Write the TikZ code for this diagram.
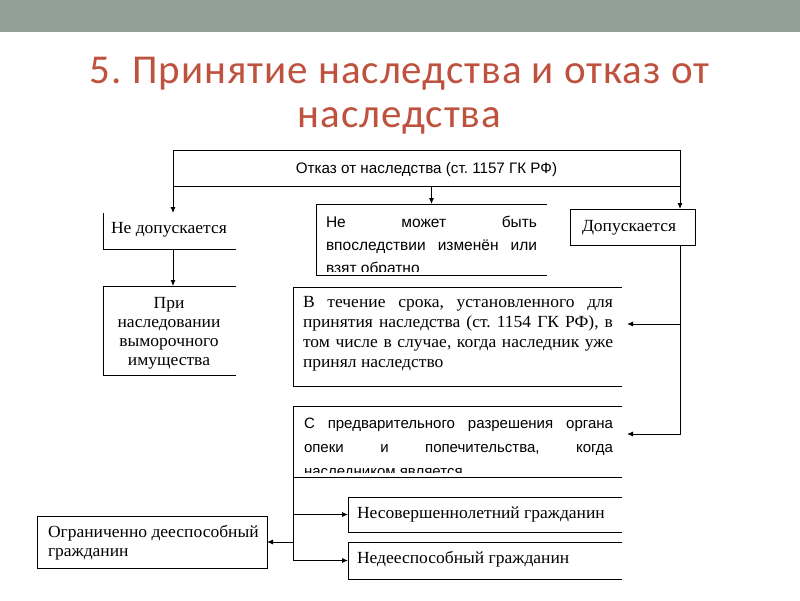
\documentclass[tikz,border=0pt]{standalone}
\usepackage{fontspec}
\setmainfont{Liberation Serif}[FakeStretch=1.03]
\newfontfamily\titlef{Carlito}[LetterSpace=2.4]
\newfontfamily\sansf{Liberation Sans}
\usetikzlibrary{arrows.meta}
\definecolor{barc}{RGB}{145,160,152}
\definecolor{ttl}{RGB}{190,82,62}
\newcommand\myjl[2]{\hbox{\makebox[#1][s]{#2}}}
\newcommand\myll[1]{\hbox{#1}}
\newcommand\mycl[1]{\hbox to 0pt{\hss #1\hss}}
\frenchspacing
\begin{document}
\begin{tikzpicture}[x=1pt,y=-1pt,
  ln/.style={line width=0.9pt},
  arr/.style={ln,-{Latex[length=6pt,width=5pt]}},
  frame/.style={inner sep=0pt, outer sep=0pt, anchor=north west},
  txt/.style={inner sep=0pt, outer sep=0pt},
  ser/.style={txt, font=\fontsize{17}{20}\selectfont},
  san/.style={txt, font=\sansf\fontsize{15.2}{18}\selectfont},
  ttlf/.style={txt, text=ttl, font=\titlef\fontsize{41}{44}\selectfont, anchor=base}
]
\useasboundingbox (0,0) rectangle (800,600);
\fill[white] (0,0) rectangle (800,600);
\fill[barc] (0,0) rectangle (800,32);
% title
\node[ttlf] (t1) at (399.5,83) {5. Принятие наследства и отказ от};
\node[ttlf] (t2) at (399.5,127) {наследства};
% frames
\node[frame, minimum width=507pt, minimum height=36pt] (otk) at (173,150) {};
\node[frame, minimum width=133pt, minimum height=36pt] (nd) at (103,213) {};
\node[frame, minimum width=133pt, minimum height=89pt] (pri) at (103,286) {};
\node[frame, minimum width=231pt, minimum height=71pt] (nm) at (316,204) {};
\node[frame, minimum width=125pt, minimum height=36pt] (dop) at (570,209) {};
\node[frame, minimum width=329pt, minimum height=99pt] (vt) at (293,287) {};
\node[frame, minimum width=329pt, minimum height=71pt] (sp) at (293,406) {};
\node[frame, minimum width=274pt, minimum height=35pt] (nes) at (348,497) {};
\node[frame, minimum width=274pt, minimum height=37pt] (ned) at (348,542) {};
\node[frame, minimum width=230pt, minimum height=52pt] (og) at (37,516) {};
% frame edges
\draw[ln] (otk.north west) rectangle (otk.south east);
\draw[ln] (nd.north west) -- (nd.south west) -- (nd.south east);
\draw[ln] (pri.north east) -- (pri.north west) -- (pri.south west) -- (pri.south east);
\draw[ln] (nm.north east) -- (nm.north west) -- (nm.south west) -- (nm.south east);
\draw[ln] (dop.north west) rectangle (dop.south east);
\draw[ln] (vt.north east) -- (vt.north west) -- (vt.south west) -- (vt.south east);
\draw[ln] (sp.north east) -- (sp.north west) -- (sp.south west) -- (sp.south east);
\draw[ln] (nes.north east) -- (nes.north west) -- (nes.south west) -- (nes.south east);
\draw[ln] (ned.north east) -- (ned.north west) -- (ned.south west) -- (ned.south east);
\draw[ln] (og.north west) rectangle (og.south east);
% texts
\node[san, anchor=base] (otkT) at (426.5,173) {Отказ от наследства (ст. 1157 ГК РФ)};
\node[ser, anchor=base west] (ndT) at (111,233) {Не допускается};
\node[ser, anchor=base, font=\fontsize{17}{19}\selectfont] (priT) at (169,308)
  {\vtop{\mycl{При}\mycl{наследовании}\mycl{выморочного}\mycl{имущества}}};
\begin{scope}
  \clip (316,204) rectangle (547,271);
  \node[san, anchor=base west, font=\sansf\fontsize{15.5}{23.3}\selectfont] (nmT) at (326,227)
    {\vtop{\myjl{211pt}{Не может быть}\myjl{211pt}{впоследствии изменён или}\myll{взят обратно}}};
\end{scope}
\node[ser, anchor=base west] (dopT) at (582,231) {Допускается};
\node[ser, anchor=base west] (vtT) at (303,307)
  {\vtop{\myjl{310pt}{В течение срока, установленного для}\myjl{310pt}{принятия наследства (ст. 1154 ГК РФ), в}\myjl{310pt}{том числе в случае, когда наследник уже}\myll{принял наследство}}};
\begin{scope}
  \clip (293,406) rectangle (622,472);
  \node[san, anchor=base west, font=\sansf\fontsize{15}{24}\selectfont] (spT) at (304,428)
    {\vtop{\myjl{309pt}{С предварительного разрешения органа}\myjl{309pt}{опеки и попечительства, когда}\myll{наследником является}}};
\end{scope}
\node[ser, anchor=base west] (nesT) at (357,518) {Несовершеннолетний гражданин};
\node[ser, anchor=base west] (nedT) at (357,563) {Недееспособный гражданин};
\node[ser, anchor=base west, font=\fontsize{17}{19.5}\selectfont] (ogT) at (48,537)
  {\vtop{\myll{Ограниченно дееспособный}\myll{гражданин}}};
% connectors
\coordinate (r1) at (627,324);
\coordinate (r2) at (627,434);
\draw[arr] (otk.south west) -- (otk.south west |- nd.north);
\draw[arr] (nm.north |- otk.south) -- (nm.north);
\draw[arr] (otk.south east) -- (otk.south east |- dop.north);
\draw[arr] (otk.south west |- nd.south) -- (otk.south west |- pri.north);
\draw[arr] (otk.south east |- dop.south) |- (r1);
\draw[arr] (otk.south east |- dop.south) |- (r2);
\draw[arr] (sp.south west) |- (nes.west);
\draw[arr] (sp.south west) |- (ned.west);
\draw[arr] (sp.south west |- og.east) -- (og.east);
\end{tikzpicture}
\end{document}
